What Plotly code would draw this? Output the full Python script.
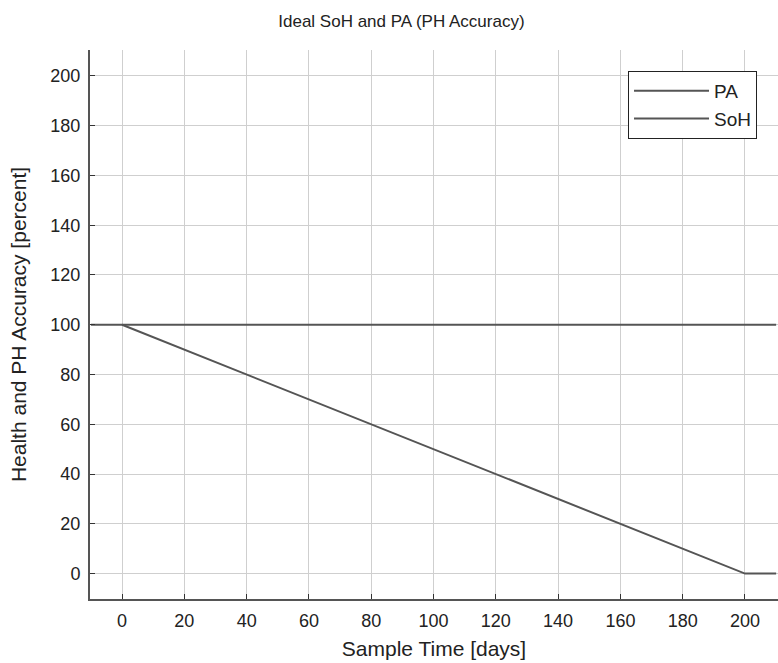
import plotly.graph_objects as go

# Sample time (days) and the two traces
pa_days = [-10, 210]
pa_values = [100, 100]
soh_days = [0, 200, 210]
soh_values = [100, 0, 0]

x_ticks = [0, 20, 40, 60, 80, 100, 120, 140, 160, 180, 200]
y_ticks = [0, 20, 40, 60, 80, 100, 120, 140, 160, 180, 200]

line_color = "#555555"
font = "Liberation Sans, Arial, sans-serif"

fig = go.Figure()
fig.add_trace(go.Scatter(x=pa_days, y=pa_values, mode="lines", name="PA",
                         line=dict(color=line_color, width=2)))
fig.add_trace(go.Scatter(x=soh_days, y=soh_values, mode="lines", name="SoH",
                         line=dict(color=line_color, width=2)))

fig.update_layout(
    width=778, height=663,
    margin=dict(l=90, r=0, t=50, b=64),
    paper_bgcolor="white", plot_bgcolor="white",
    font=dict(family=font, size=18, color="#222222"),
    title=dict(text="Ideal SoH and PA (PH Accuracy)", x=0.516, xanchor="center",
               y=1 - 21 / 663, yanchor="middle",
               font=dict(size=17, color="#222222")),
    showlegend=True,
    legend=dict(x=0.9695, y=0.962, xanchor="right", yanchor="top",
                bordercolor="#222222", borderwidth=1, bgcolor="white",
                font=dict(size=19), tracegroupgap=0,
                itemwidth=75),
)
fig.update_xaxes(
    range=[-10.3, 210.6], tickvals=x_ticks, ticks="inside", ticklen=5,
    tickcolor="#333333", showline=True, linecolor="#555555", linewidth=2,
    showgrid=True, gridcolor="#cfcfcf", gridwidth=1, zeroline=False,
    title=dict(text="Sample Time [days]", font=dict(size=21), standoff=12),
    tickfont=dict(size=18), ticklabelstandoff=4,
)
fig.update_yaxes(
    range=[-10.2, 210.4], tickvals=y_ticks, ticks="inside", ticklen=5,
    tickcolor="#333333", showline=True, linecolor="#555555", linewidth=2,
    showgrid=True, gridcolor="#cfcfcf", gridwidth=1, zeroline=False,
    title=dict(text="Health and PH Accuracy [percent]", font=dict(size=21), standoff=18),
    tickfont=dict(size=18), ticklabelstandoff=4,
)

fig.write_html("out.html")
